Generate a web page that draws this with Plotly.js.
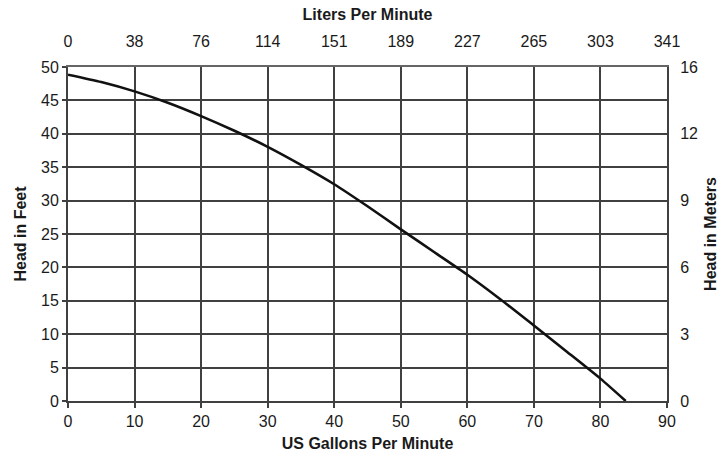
<!DOCTYPE html>
<html>
<head>
<meta charset="utf-8">
<script src="https://cdn.plot.ly/plotly-3.0.1.min.js"></script>
<style>html,body{margin:0;padding:0;background:#fff}#chart{width:725px;height:458px}</style>
</head>
<body>
<div id="chart"></div>
<script>
// Pump curve: flow (US GPM) vs head (ft)
const flowGPM = [0, 5, 10, 15, 20, 25, 30, 35, 40, 45, 50, 55, 60, 65, 70, 75, 80, 83.8];
const headFt  = [48.85, 47.75, 46.35, 44.65, 42.65, 40.45, 38.05, 35.35, 32.45, 29.15, 25.7, 22.3, 18.9, 15.2, 11.3, 7.35, 3.35, 0];

const gpmTicks = [0, 10, 20, 30, 40, 50, 60, 70, 80, 90];
const lpmLabels = ['0', '38', '76', '114', '151', '189', '227', '265', '303', '341'];
const ftTicks = [0, 5, 10, 15, 20, 25, 30, 35, 40, 45, 50];
const meterTickPos = [0, 10, 20, 30, 40, 50];
const meterLabels = ['0', '3', '6', '9', '12', '16'];

const font = {family: 'Liberation Sans, Arial, sans-serif', size: 16, color: '#1a1a1a'};
const titleFont = {family: 'Liberation Sans, Arial, sans-serif', size: 16, color: '#1a1a1a', weight: 'bold'};
const grid = '#404040';

const traces = [
  {x: flowGPM, y: headFt, type: 'scatter', mode: 'lines', line: {color: '#111', width: 2.6, shape: 'spline', smoothing: 0.6}, hoverinfo: 'skip'},
  {x: flowGPM, y: headFt, xaxis: 'x2', yaxis: 'y2', type: 'scatter', mode: 'lines', line: {color: 'rgba(0,0,0,0)', width: 0}, hoverinfo: 'skip'}
];

const layout = {
  width: 725, height: 458,
  margin: {l: 68, r: 58, t: 67, b: 57},
  paper_bgcolor: '#fff', plot_bgcolor: '#fff',
  showlegend: false,
  font: font,
  xaxis: {
    range: [0, 90], tickvals: gpmTicks, ticktext: gpmTicks.map(String),
    showgrid: true, gridcolor: grid, gridwidth: 2,
    showline: true, linecolor: grid, linewidth: 2, mirror: false,
    ticks: 'outside', ticklen: 5, tickcolor: grid, tickwidth: 2,
    zeroline: false, tickfont: font,
    title: {text: 'US Gallons Per Minute', font: titleFont, standoff: 9}
  },
  xaxis2: {
    overlaying: 'x', side: 'top', range: [0, 90], tickvals: gpmTicks, ticktext: lpmLabels,
    showgrid: false, showline: true, linecolor: '#666', linewidth: 2, zeroline: false,
    ticks: 'outside', ticklen: 12, tickcolor: 'rgba(0,0,0,0)', tickfont: font,
    title: {text: 'Liters Per Minute', font: titleFont, standoff: 8}
  },
  yaxis: {
    range: [0, 50], tickvals: ftTicks, ticktext: ftTicks.map(String),
    showgrid: true, gridcolor: grid, gridwidth: 2,
    showline: true, linecolor: grid, linewidth: 2,
    ticks: 'outside', ticklen: 4, tickcolor: grid, tickwidth: 2,
    zeroline: false, tickfont: font,
    title: {text: 'Head in Feet', font: titleFont, standoff: 10}
  },
  yaxis2: {
    overlaying: 'y', side: 'right', range: [0, 50], tickvals: meterTickPos, ticktext: meterLabels,
    showgrid: false, showline: true, linecolor: grid, linewidth: 2, zeroline: false,
    ticks: 'outside', ticklen: 8, tickcolor: 'rgba(0,0,0,0)', tickfont: font,
    title: {text: 'Head in Meters', font: titleFont, standoff: 8}
  }
};

Plotly.newPlot('chart', traces, layout, {staticPlot: true, displayModeBar: false});
</script>
</body>
</html>
